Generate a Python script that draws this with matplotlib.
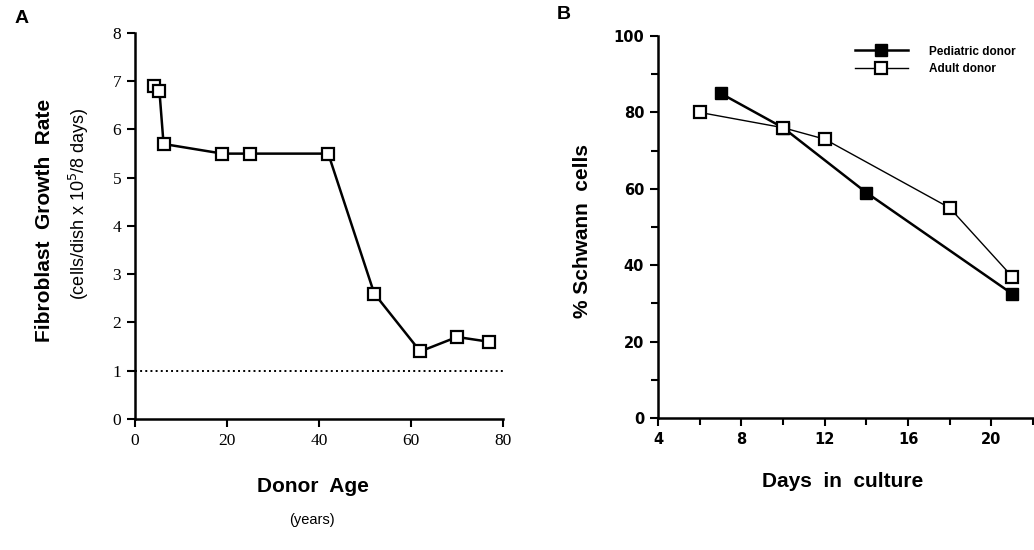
import matplotlib
matplotlib.use('Agg')
import matplotlib.pyplot as plt

# panel A: fibroblast growth vs donor age
age = [4.2, 5.3, 6.2, 19, 25, 42, 52, 62, 70, 77]
growth = [6.9, 6.8, 5.7, 5.5, 5.5, 5.5, 2.6, 1.4, 1.7, 1.6]

# panel B: % Schwann cells vs days in culture
ped_days = [7, 10, 14, 21]
ped_pct = [85, 76, 59, 32.5]
adult_days = [6, 10, 12, 18, 21]
adult_pct = [80, 76, 73, 55, 37]

fig = plt.figure(figsize=(10.34, 5.5), dpi=100)

axA = fig.add_axes([0.1306, 0.2382, 0.3559, 0.7018])
axA.plot(age, growth, color='black', lw=1.8, marker='s', ms=9,
         mfc='white', mec='black', mew=1.6, clip_on=False)
axA.axhline(1, color='black', ls=':', lw=1.4)
axA.set_xlim(0, 80)
axA.set_ylim(0, 8)
axA.set_xticks([0, 20, 40, 60, 80])
axA.set_yticks(range(9))
for lab in axA.get_xticklabels() + axA.get_yticklabels():
    lab.set_family('Liberation Serif')
    lab.set_fontsize(12.5)

axB = fig.add_axes([0.6364, 0.24, 0.3627, 0.6945])
axB.plot(ped_days, ped_pct, color='black', lw=1.8, marker='s', ms=8.5,
         mfc='black', mec='black', label='Pediatric donor', clip_on=False)
axB.plot(adult_days, adult_pct, color='black', lw=1.0, marker='s', ms=8.5,
         mfc='white', mec='black', mew=1.6, label='Adult donor', clip_on=False)
axB.set_xlim(4, 22)
axB.set_ylim(0, 100)
axB.set_xticks([4, 8, 12, 16, 20])
axB.set_xticks([6, 10, 14, 18, 22], minor=True)
axB.set_yticks([0, 20, 40, 60, 80, 100])
axB.set_yticks([10, 30, 50, 70, 90], minor=True)
for lab in axB.get_xticklabels() + axB.get_yticklabels():
    lab.set_family('DejaVu Sans')
    lab.set_fontsize(10.5)
    lab.set_weight('bold')
axB.legend(loc='upper left', bbox_to_anchor=(0.525, 0.975), frameon=False,
           handlelength=4.5, handletextpad=1.8, borderpad=0,
           prop={'family': 'Liberation Sans', 'weight': 'bold', 'size': 8.5},
           labelspacing=0.45, borderaxespad=0)

for ax in (axA, axB):
    for s in ('top', 'right'):
        ax.spines[s].set_visible(False)
    for s in ('left', 'bottom'):
        ax.spines[s].set_linewidth(1.8)
    ax.tick_params(direction='out', length=6, width=1.5, pad=4)
    ax.tick_params(which='minor', direction='out', length=5, width=1.5)

sans = 'Liberation Sans'
fig.text(0.0145, 0.967, 'A', fontsize=14, weight='bold', family=sans, va='center')
fig.text(0.538, 0.973, 'B', fontsize=14, weight='bold', family=sans, va='center')

fig.text(0.0435, 0.6, 'Fibroblast  Growth  Rate', rotation=90, fontsize=15,
         weight='bold', family=sans, ha='center', va='center')
fig.text(0.076, 0.63, '(cells/dish x 10$^5$/8 days)', rotation=90, fontsize=13,
         family=sans, ha='center', va='center')
fig.text(0.303, 0.115, 'Donor  Age', fontsize=15, weight='bold', family=sans,
         ha='center', va='center')
fig.text(0.302, 0.055, '(years)', fontsize=10.5, family=sans, ha='center', va='center')

fig.text(0.563, 0.58, '% Schwann  cells', rotation=90, fontsize=15,
         weight='bold', family=sans, ha='center', va='center')
fig.text(0.815, 0.124, 'Days  in  culture', fontsize=15, weight='bold',
         family=sans, ha='center', va='center')

fig.savefig('out.png', dpi=100)
